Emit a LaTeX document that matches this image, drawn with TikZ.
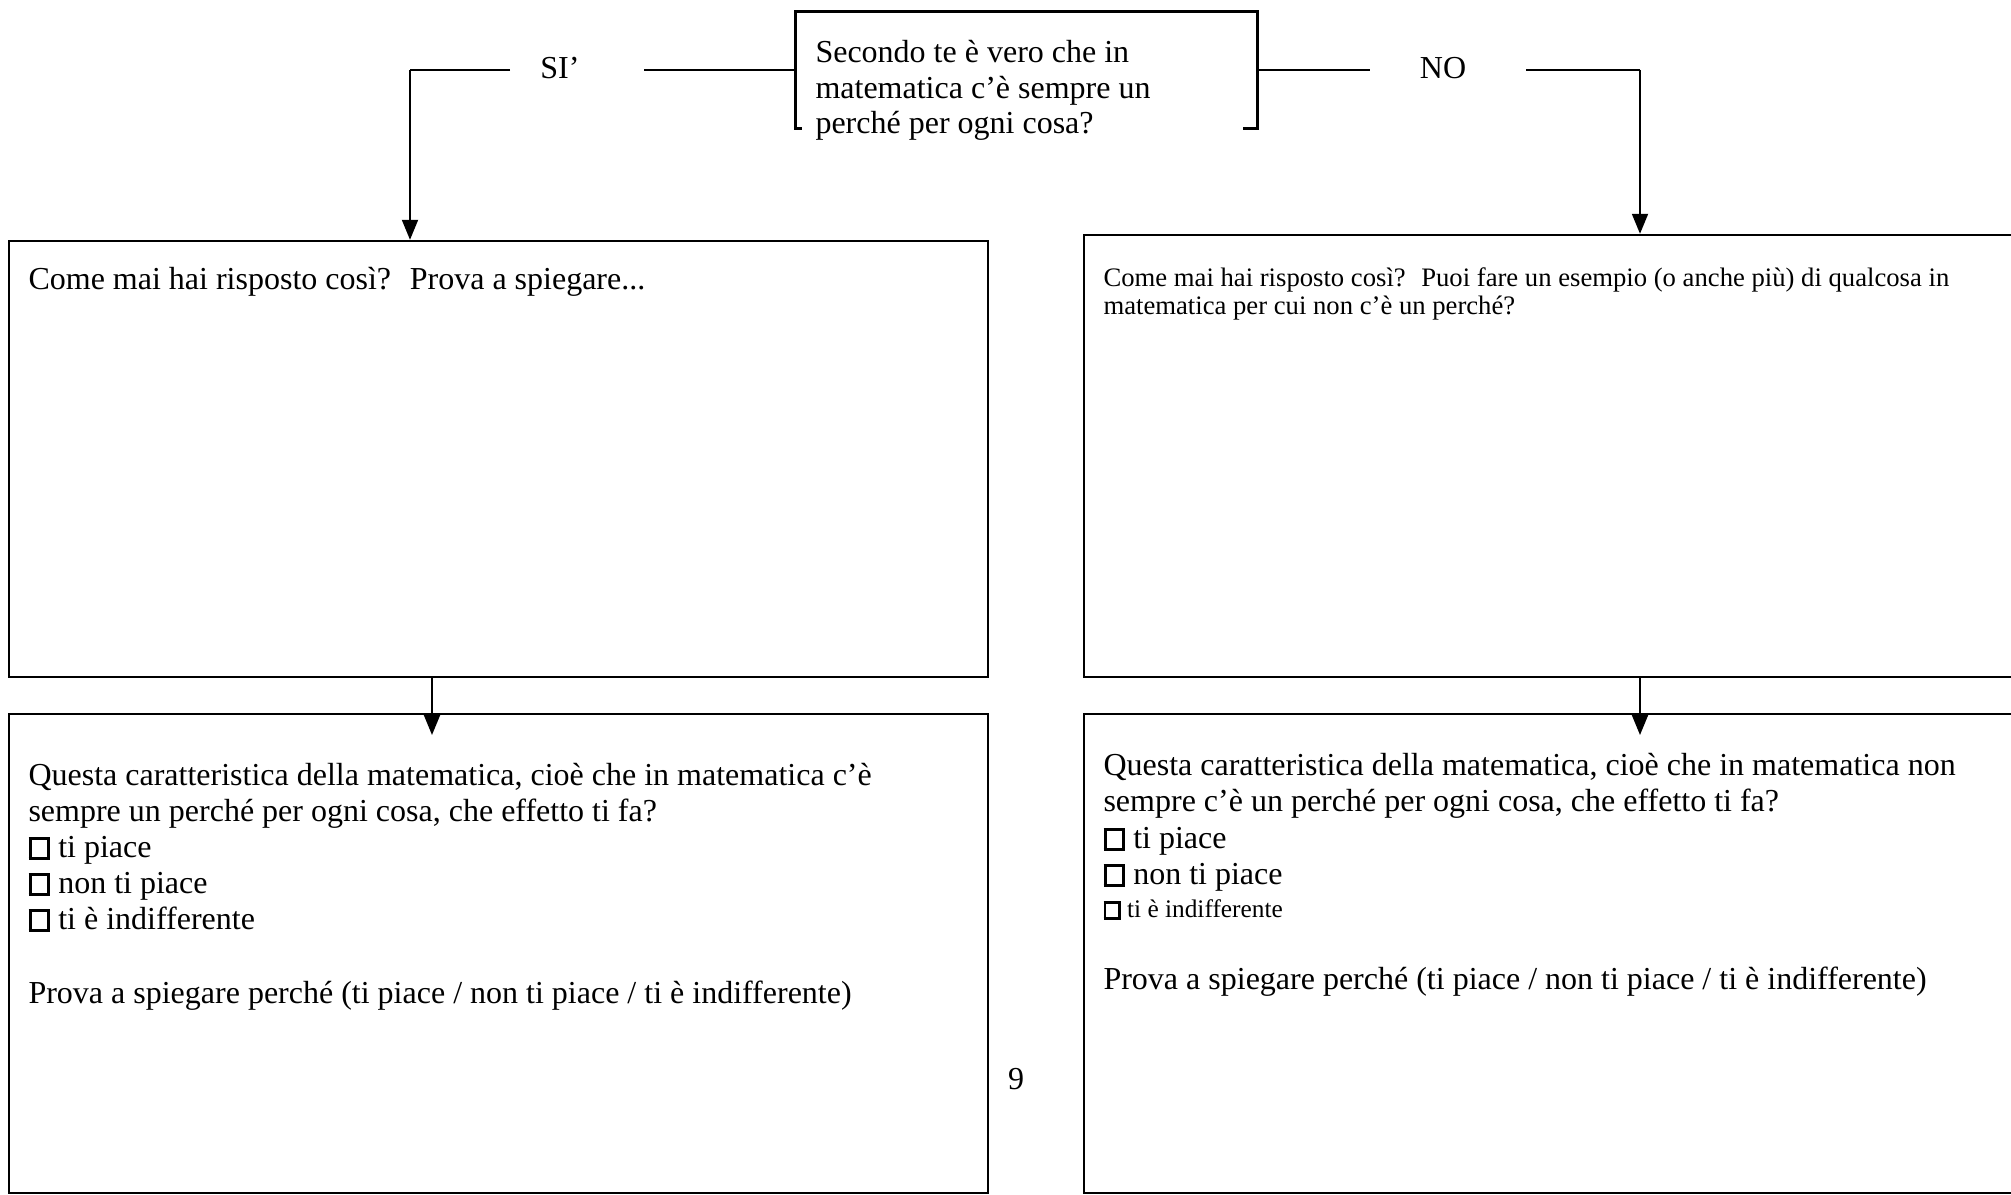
\documentclass[tikz,border=0pt]{standalone}
\usepackage{fontspec}
\setmainfont{Liberation Serif}
\usetikzlibrary{arrows.meta}
\newcommand{\sqbox}{{\setlength{\fboxsep}{0pt}\setlength{\fboxrule}{0.1em}\fbox{\rule{0pt}{0.52em}\rule{0.48em}{0pt}}}}
\tikzset{
  panel/.style={draw, line width=0.9pt, inner sep=0pt},
  conn/.style={line width=0.9pt},
  arr/.style={line width=0.7pt, -{Triangle[width=6pt,length=7.5pt]}},
  txt/.style={anchor=base west, inner sep=0pt, font=\fontsize{12}{14}\selectfont},
  txtsm/.style={anchor=base west, inner sep=0pt, font=\fontsize{10}{12}\selectfont},
  txtxs/.style={anchor=base west, inner sep=0pt, font=\fontsize{9.5}{11}\selectfont},
  lbl/.style={anchor=base, inner sep=0pt, font=\fontsize{12}{14}\selectfont}
}
\begin{document}
\begin{tikzpicture}[x=0.375pt,y=-0.375pt]
\useasboundingbox (0,0) rectangle (2011,1195);
\clip (0,0) rectangle (2011,1195);
% panels
\node[panel, minimum width=367.125pt, minimum height=163.5pt] (L1) at (498.5,459) {};
\node[panel, minimum width=360pt, minimum height=165.75pt] (R1) at (1564,456) {};
\node[panel, minimum width=367.125pt, minimum height=179.625pt] (L2) at (498.5,953.5) {};
\node[panel, minimum width=360pt, minimum height=179.625pt] (R2) at (1564,953.5) {};
% question box (bottom edge only partly drawn)
\node[inner sep=0pt, minimum width=172.875pt, minimum height=43.5pt] (Q) at (1026.5,70) {};
\draw[line width=0.9pt] ([xshift=2.3pt]Q.south west) -- (Q.south west) -- (Q.north west) -- (Q.north east) -- (Q.south east) -- ([xshift=-5.6pt]Q.south east);
\node[txt] (q1) at (815,63) {Secondo te è vero che in};
\node[txt] (q2) at (815,99) {matematica c’è sempre un};
\node[txt] (q3) at (815,134) {perché per ogni cosa?};
% SI branch
\node[lbl] (si) at (560,79) {SI’};
\coordinate (siR) at (644,70);
\coordinate (siL) at (510,70);
\coordinate (siC) at (410,70);
\draw[conn] (Q.west) -- (siR);
\draw[conn] (siL) -- (siC);
\draw[arr] (siC) -- (siC |- L1.north);
% NO branch
\node[lbl] (no) at (1443,79) {NO};
\coordinate (noL) at (1370,70);
\coordinate (noR) at (1526,70);
\coordinate (noC) at (1640,70);
\draw[conn] (Q.east) -- (noL);
\draw[conn] (noR) -- (noC);
\draw[arr] (noC) -- (noC |- R1.north);
% middle arrows
\coordinate (la) at (432,735);
\coordinate (ra) at (1640,735);
\draw[arr] (la |- L1.south) -- (la);
\draw[arr] (ra |- R1.south) -- (ra);
% texts in panels
\node[txt] (l1t) at (28,290) {Come mai hai risposto così?~ Prova a spiegare...};
\node[txtsm] (r1a) at (1103,287) {Come mai hai risposto così?~ Puoi fare un esempio (o anche più) di qualcosa in};
\node[txtsm] (r1b) at (1103,314) {matematica per cui non c’è un perché?};
\node[txt] (l2a) at (28,785) {Questa caratteristica della matematica, cioè che in matematica c’è};
\node[txt] (l2b) at (28,821) {sempre un perché per ogni cosa, che effetto ti fa?};
\node[txt] (l2c) at (28,857) {\sqbox\ ti piace};
\node[txt] (l2d) at (28,893) {\sqbox\ non ti piace};
\node[txt] (l2e) at (28,929) {\sqbox\ ti è indifferente};
\node[txt] (l2f) at (28,1003) {Prova a spiegare perché (ti piace / non ti piace / ti è indifferente)};
\node[txt] (r2a) at (1103,775) {Questa caratteristica della matematica, cioè che in matematica non};
\node[txt] (r2b) at (1103,811) {sempre c’è un perché per ogni cosa, che effetto ti fa?};
\node[txt] (r2c) at (1103,848) {\sqbox\ ti piace};
\node[txt] (r2d) at (1103,884) {\sqbox\ non ti piace};
\node[txtxs] (r2e) at (1103,917) {\sqbox\ ti è indifferente};
\node[txt] (r2f) at (1103,989) {Prova a spiegare perché (ti piace / non ti piace / ti è indifferente)};
% page number
\node[lbl] (pg) at (1016,1089) {9};
\end{tikzpicture}
\end{document}
